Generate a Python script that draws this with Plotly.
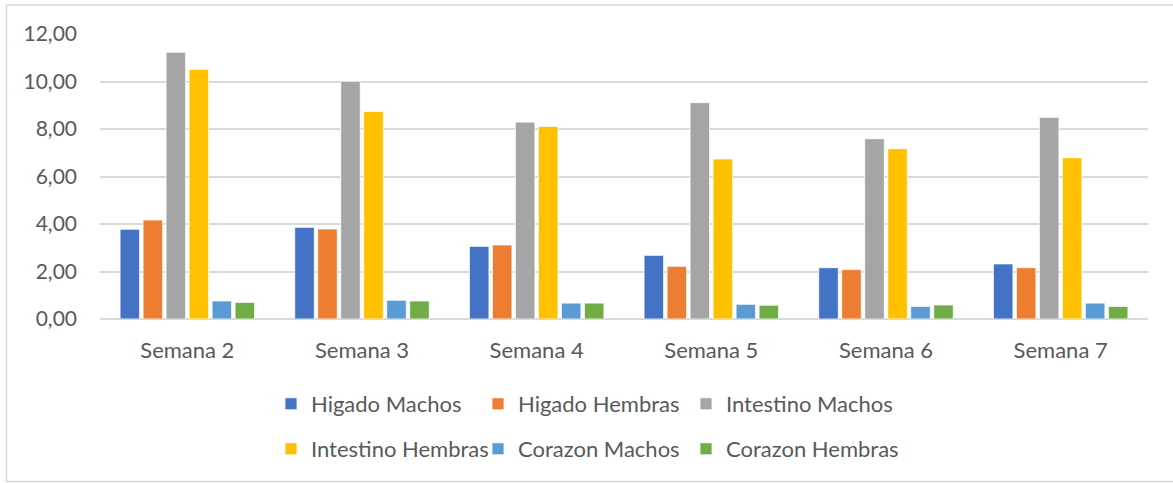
import plotly.graph_objects as go

semanas = ["Semana 2", "Semana 3", "Semana 4", "Semana 5", "Semana 6", "Semana 7"]

higado_machos = [3.78, 3.86, 3.06, 2.68, 2.16, 2.32]
higado_hembras = [4.17, 3.79, 3.12, 2.22, 2.08, 2.16]
intestino_machos = [11.23, 10.01, 8.29, 9.11, 7.59, 8.49]
intestino_hembras = [10.51, 8.74, 8.11, 6.74, 7.17, 6.79]
corazon_machos = [0.76, 0.79, 0.67, 0.62, 0.53, 0.67]
corazon_hembras = [0.70, 0.76, 0.67, 0.58, 0.59, 0.53]

series = [
    ("Higado Machos", higado_machos, "#4472C4"),
    ("Higado Hembras", higado_hembras, "#ED7D31"),
    ("Intestino Machos", intestino_machos, "#A5A5A5"),
    ("Intestino Hembras", intestino_hembras, "#FFC000"),
    ("Corazon Machos", corazon_machos, "#5B9BD5"),
    ("Corazon Hembras", corazon_hembras, "#70AD47"),
]

FONT = "Lato"
TEXT = "#595959"
GRID = "#D9D9D9"

# one legend per entry so the two legend rows can be laid out freely
legend_x = [271, 478, 686, 271, 478, 686]
legend_y = [0.1636, 0.1636, 0.1636, 0.0704, 0.0704, 0.0704]

fig = go.Figure()
layout_legends = {}
for i, (name, vals, color) in enumerate(series):
    key = "legend" if i == 0 else f"legend{i + 1}"
    fig.add_trace(go.Bar(
        x=semanas, y=vals, name=name,
        marker=dict(color=color, line=dict(color="white", width=0.8)),
        legend=key,
    ))
    layout_legends[key] = dict(
        x=legend_x[i] / 1173, y=legend_y[i], xref="container", yref="container",
        xanchor="left", yanchor="middle", orientation="h",
        font=dict(family=FONT, size=22, color=TEXT),
        bgcolor="rgba(0,0,0,0)", borderwidth=0,
        itemclick=False, itemdoubleclick=False,
    )

fig.update_layout(
    width=1173, height=483,
    margin=dict(l=100, r=25, t=34, b=164),
    paper_bgcolor="white", plot_bgcolor="white",
    barmode="group", bargap=0.21, bargroupgap=0.15,
    separators=",.",
    font=dict(family=FONT, size=22, color=TEXT),
    showlegend=True,
    **layout_legends,
)

fig.update_yaxes(
    range=[0, 12], dtick=2, tickformat=".2f",
    showgrid=True, gridcolor=GRID, gridwidth=1.5,
    zeroline=True, zerolinecolor=GRID, zerolinewidth=1.5,
    showline=False, ticks="", ticklabelstandoff=22,
    tickfont=dict(family=FONT, size=21, color=TEXT),
)
fig.update_xaxes(
    showgrid=False, showline=False, ticks="", ticklabelstandoff=16,
    tickfont=dict(family=FONT, size=22, color=TEXT),
)

# outer chart frame
fig.add_shape(
    type="rect", xref="paper", yref="paper",
    x0=(6.5 - 100) / 1048, x1=(1180 - 100) / 1048,
    y0=(319 - 481.5) / 285, y1=(319 - 5) / 285,
    line=dict(color=GRID, width=1.5), fillcolor="rgba(0,0,0,0)",
    layer="below",
)

fig.write_html("out.html")
